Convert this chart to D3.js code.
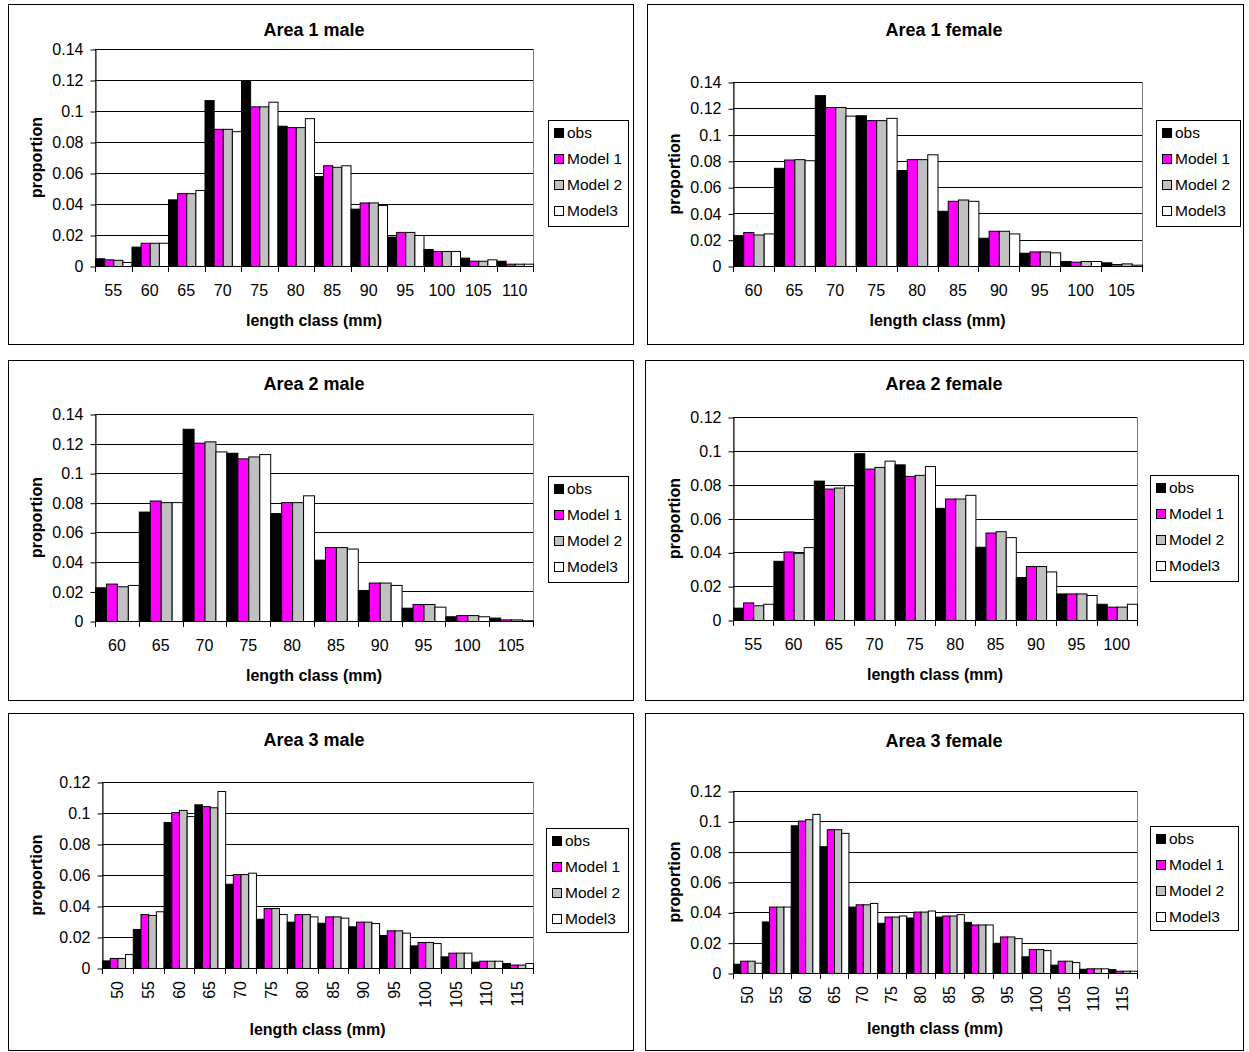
<!DOCTYPE html>
<html>
<head>
<meta charset="utf-8">
<script src="https://cdn.jsdelivr.net/npm/d3@7"></script>
<style>
  body { margin: 0; background: #fff; }
  svg { display: block; font-family: "Liberation Sans", Arial, sans-serif; }
</style>
</head>
<body>
<svg id="chart" width="1249" height="1052"></svg>
<script>
// Series shown in every panel
const seriesNames = ["obs", "Model 1", "Model 2", "Model3"];
const seriesColors = ["#000000", "#ff00ff", "#c0c0c0", "#ffffff"];

// Y-axis ticks
const yTicks14 = [0, 0.02, 0.04, 0.06, 0.08, 0.1, 0.12, 0.14];
const yTicks12 = [0, 0.02, 0.04, 0.06, 0.08, 0.1, 0.12];
const yTickLabels = ["0", "0.02", "0.04", "0.06", "0.08", "0.1", "0.12", "0.14"];

// Area 1 male
const a1mCats = [55, 60, 65, 70, 75, 80, 85, 90, 95, 100, 105, 110];
const a1mObs = [0.005, 0.0125, 0.043, 0.107, 0.120, 0.0905, 0.058, 0.037, 0.019, 0.011, 0.0054, 0.0034];
const a1mM1  = [0.0043, 0.015, 0.047, 0.0885, 0.103, 0.0896, 0.065, 0.041, 0.022, 0.0097, 0.0034, 0.0015];
const a1mM2  = [0.004, 0.015, 0.047, 0.0885, 0.103, 0.0896, 0.064, 0.041, 0.022, 0.0097, 0.0034, 0.0015];
const a1mM3  = [0.0026, 0.015, 0.049, 0.087, 0.106, 0.0954, 0.065, 0.0394, 0.020, 0.0097, 0.0043, 0.0015];

// Area 1 female
const a1fCats = [60, 65, 70, 75, 80, 85, 90, 95, 100, 105];
const a1fObs = [0.0235, 0.0747, 0.130, 0.1147, 0.073, 0.042, 0.0215, 0.0101, 0.0038, 0.0028];
const a1fM1  = [0.0258, 0.081, 0.121, 0.111, 0.0813, 0.0496, 0.0268, 0.0111, 0.0033, 0.0015];
const a1fM2  = [0.024, 0.0813, 0.121, 0.111, 0.0813, 0.0506, 0.0268, 0.0111, 0.0038, 0.002];
const a1fM3  = [0.0248, 0.0805, 0.1144, 0.1127, 0.085, 0.0496, 0.0248, 0.0104, 0.0038, 0.001];

// Area 2 male
const a2mCats = [60, 65, 70, 75, 80, 85, 90, 95, 100, 105];
const a2mObs = [0.0228, 0.074, 0.130, 0.1138, 0.073, 0.0415, 0.021, 0.009, 0.0032, 0.0023];
const a2mM1  = [0.0253, 0.0815, 0.1206, 0.110, 0.0804, 0.050, 0.026, 0.0115, 0.004, 0.0011];
const a2mM2  = [0.0235, 0.0804, 0.1215, 0.1113, 0.0804, 0.050, 0.026, 0.0115, 0.004, 0.0011];
const a2mM3  = [0.0244, 0.0804, 0.1147, 0.1129, 0.085, 0.049, 0.0244, 0.0097, 0.0032, 0.0005];

// Area 2 female
const a2fCats = [55, 60, 65, 70, 75, 80, 85, 90, 95, 100];
const a2fObs = [0.0073, 0.035, 0.0824, 0.0986, 0.092, 0.0663, 0.0433, 0.0254, 0.0157, 0.0096];
const a2fM1  = [0.0104, 0.0405, 0.0777, 0.0895, 0.0852, 0.0718, 0.0517, 0.0319, 0.0157, 0.0079];
const a2fM2  = [0.0087, 0.0397, 0.0783, 0.0905, 0.0858, 0.0718, 0.0525, 0.0319, 0.0157, 0.0079];
const a2fM3  = [0.0096, 0.0431, 0.0797, 0.0942, 0.091, 0.074, 0.049, 0.0287, 0.0148, 0.0096];

// Area 3 male
const a3mCats = [50, 55, 60, 65, 70, 75, 80, 85, 90, 95, 100, 105, 110, 115];
const a3mObs = [0.0049, 0.0252, 0.0942, 0.1056, 0.0544, 0.0318, 0.0299, 0.0292, 0.0269, 0.0213, 0.0146, 0.0075, 0.0041, 0.0032];
const a3mM1  = [0.0065, 0.0348, 0.1006, 0.1045, 0.0606, 0.0387, 0.0348, 0.0333, 0.0299, 0.0243, 0.0168, 0.0099, 0.0047, 0.0022];
const a3mM2  = [0.0065, 0.0342, 0.102, 0.1037, 0.0606, 0.0387, 0.0348, 0.0333, 0.0299, 0.0243, 0.0168, 0.0099, 0.0047, 0.0022];
const a3mM3  = [0.009, 0.0366, 0.098, 0.1142, 0.0615, 0.0348, 0.0333, 0.0325, 0.029, 0.0228, 0.0161, 0.0099, 0.0047, 0.0032];

// Area 3 female
const a3fCats = [50, 55, 60, 65, 70, 75, 80, 85, 90, 95, 100, 105, 110, 115];
const a3fObs = [0.0061, 0.034, 0.0974, 0.0836, 0.0438, 0.0331, 0.0366, 0.0372, 0.0337, 0.0199, 0.011, 0.0055, 0.0028, 0.0026];
const a3fM1  = [0.0081, 0.0438, 0.1005, 0.0948, 0.0453, 0.0372, 0.0405, 0.0379, 0.032, 0.0241, 0.0158, 0.0081, 0.0031, 0.0015];
const a3fM2  = [0.0081, 0.0438, 0.1014, 0.0948, 0.0453, 0.0372, 0.0405, 0.0379, 0.032, 0.0241, 0.0158, 0.0081, 0.0031, 0.0015];
const a3fM3  = [0.0068, 0.0438, 0.1049, 0.0924, 0.0462, 0.0379, 0.0412, 0.0388, 0.032, 0.023, 0.0151, 0.0072, 0.0031, 0.0015];

// Panel layout: frame box, plot rectangle, legend box, text anchors
const panels = [
  { title: "Area 1 male", cats: a1mCats, series: [a1mObs, a1mM1, a1mM2, a1mM3], yTicks: yTicks14,
    box: [8, 4, 633, 344], plot: [95, 49, 533, 266], legend: [548, 120, 80, 106],
    titleX: 314, titleY: 30, yTitleX: 36, xTitleY: 320, rotate: false },
  { title: "Area 1 female", cats: a1fCats, series: [a1fObs, a1fM1, a1fM2, a1fM3], yTicks: yTicks14,
    box: [647, 4, 1243, 344], plot: [733, 82, 1142, 266], legend: [1156, 120, 84, 106],
    titleX: 944, titleY: 30, yTitleX: 674, xTitleY: 320, rotate: false },
  { title: "Area 2 male", cats: a2mCats, series: [a2mObs, a2mM1, a2mM2, a2mM3], yTicks: yTicks14,
    box: [8, 360, 633, 700], plot: [95, 414, 533, 621], legend: [548, 476, 80, 106],
    titleX: 314, titleY: 384, yTitleX: 36, xTitleY: 675, rotate: false },
  { title: "Area 2 female", cats: a2fCats, series: [a2fObs, a2fM1, a2fM2, a2fM3], yTicks: yTicks12,
    box: [645, 360, 1243, 700], plot: [733, 417, 1137, 620], legend: [1150, 475, 88, 106],
    titleX: 944, titleY: 384, yTitleX: 674, xTitleY: 674, rotate: false },
  { title: "Area 3 male", cats: a3mCats, series: [a3mObs, a3mM1, a3mM2, a3mM3], yTicks: yTicks12,
    box: [8, 713, 633, 1050], plot: [102, 782, 533, 968], legend: [546, 828, 82, 104],
    titleX: 314, titleY: 740, yTitleX: 36, xTitleY: 1029, rotate: true },
  { title: "Area 3 female", cats: a3fCats, series: [a3fObs, a3fM1, a3fM2, a3fM3], yTicks: yTicks12,
    box: [645, 713, 1243, 1050], plot: [733, 791, 1137, 973], legend: [1150, 826, 88, 104],
    titleX: 944, titleY: 741, yTitleX: 674, xTitleY: 1028, rotate: true }
];

const svg = d3.select("#chart");
const fmt = d => yTickLabels[yTicks14.indexOf(d)];

panels.forEach(p => {
  const g = svg.append("g");
  const [bx0, by0, bx1, by1] = p.box;
  const [px0, py0, px1, py1] = p.plot;

  // frame
  g.append("rect")
    .attr("x", bx0 + 0.5).attr("y", by0 + 0.5)
    .attr("width", bx1 - bx0).attr("height", by1 - by0)
    .attr("fill", "#fff").attr("stroke", "#000").attr("stroke-width", 1);

  const x = d3.scaleBand().domain(p.cats).range([px0, px1]).paddingInner(0).paddingOuter(0);
  const xs = d3.scaleBand().domain(seriesNames).range([0, x.bandwidth()]).padding(0);
  const y = d3.scaleLinear().domain([0, d3.max(p.yTicks)]).range([py1, py0]);

  // plot-area outline
  g.append("rect")
    .attr("x", px0 + 0.5).attr("y", py0 + 0.5)
    .attr("width", px1 - px0).attr("height", py1 - py0)
    .attr("fill", "none").attr("stroke", "#808080");

  // horizontal gridlines
  g.append("g").selectAll("line")
    .data(p.yTicks.filter(t => t > 0))
    .join("line")
    .attr("x1", px0).attr("x2", px1)
    .attr("y1", d => Math.round(y(d)) + 0.5).attr("y2", d => Math.round(y(d)) + 0.5)
    .attr("stroke", "#000").attr("stroke-width", 1);

  // bars
  const rows = p.cats.map((c, i) => ({ cat: c, vals: p.series.map(s => s[i]) }));
  g.append("g").selectAll("g")
    .data(rows)
    .join("g")
    .attr("transform", d => `translate(${x(d.cat)},0)`)
    .selectAll("rect")
    .data(d => d.vals.map((v, k) => ({ v, k })))
    .join("rect")
    .attr("x", d => xs(seriesNames[d.k]) + 0.5)
    .attr("y", d => y(d.v) + 0.5)
    .attr("width", xs.bandwidth())
    .attr("height", d => Math.max(0, y(0) - y(d.v)))
    .attr("fill", d => seriesColors[d.k])
    .attr("stroke", "#000").attr("stroke-width", 1);

  // y axis
  const yAxis = g.append("g")
    .attr("transform", `translate(${px0 + 0.5},0.5)`)
    .call(d3.axisLeft(y).tickValues(p.yTicks).tickFormat(fmt).tickSize(5).tickPadding(7).tickSizeOuter(0));
  yAxis.selectAll("text").attr("font-size", 16).attr("fill", "#000")
    .attr("font-family", "'Liberation Sans', Arial, sans-serif");
  yAxis.selectAll("line,path").attr("stroke", "#000");

  // x axis: baseline, boundary ticks, labels
  g.append("line")
    .attr("x1", px0).attr("x2", px1 + 1)
    .attr("y1", py1 + 0.5).attr("y2", py1 + 0.5)
    .attr("stroke", "#000");
  const bounds = p.cats.map(c => x(c)).concat([px1]);
  g.append("g").selectAll("line")
    .data(bounds)
    .join("line")
    .attr("x1", d => Math.round(d) + 0.5).attr("x2", d => Math.round(d) + 0.5)
    .attr("y1", py1).attr("y2", py1 + 6)
    .attr("stroke", "#000");

  const labels = g.append("g").selectAll("text")
    .data(p.cats)
    .join("text")
    .attr("font-size", 16)
    .attr("fill", "#000")
    .text(d => d);
  if (p.rotate) {
    labels
      .attr("transform", d => `translate(${x(d) + x.bandwidth() / 2},${py1 + 13}) rotate(-90)`)
      .attr("text-anchor", "end")
      .attr("dy", "0.35em");
  } else {
    labels
      .attr("x", d => x(d) + x.bandwidth() / 2)
      .attr("y", py1 + 18)
      .attr("dy", "0.72em")
      .attr("text-anchor", "middle");
  }

  // titles
  g.append("text")
    .attr("x", p.titleX).attr("y", p.titleY)
    .attr("text-anchor", "middle").attr("dy", "0.35em")
    .attr("font-size", 18).attr("font-weight", "bold")
    .text(p.title);
  g.append("text")
    .attr("x", (px0 + px1) / 2).attr("y", p.xTitleY)
    .attr("text-anchor", "middle").attr("dy", "0.35em")
    .attr("font-size", 16).attr("font-weight", "bold")
    .text("length class (mm)");
  g.append("text")
    .attr("transform", `translate(${p.yTitleX},${(py0 + py1) / 2}) rotate(-90)`)
    .attr("text-anchor", "middle").attr("dy", "0.35em")
    .attr("font-size", 16).attr("font-weight", "bold")
    .text("proportion");

  // legend
  const [lx, ly, lw, lh] = p.legend;
  const lg = g.append("g");
  lg.append("rect")
    .attr("x", lx + 0.5).attr("y", ly + 0.5)
    .attr("width", lw).attr("height", lh)
    .attr("fill", "#fff").attr("stroke", "#000");
  const items = lg.selectAll("g")
    .data(seriesNames)
    .join("g")
    .attr("transform", (d, i) => `translate(${lx + 6},${ly + 13 + i * 26})`);
  items.append("rect")
    .attr("x", 0.5).attr("y", -4.5)
    .attr("width", 9).attr("height", 9)
    .attr("fill", (d, i) => seriesColors[i])
    .attr("stroke", "#000");
  items.append("text")
    .attr("x", 13).attr("dy", "0.35em")
    .attr("font-size", 15.5)
    .text(d => d);
});
</script>
</body>
</html>
